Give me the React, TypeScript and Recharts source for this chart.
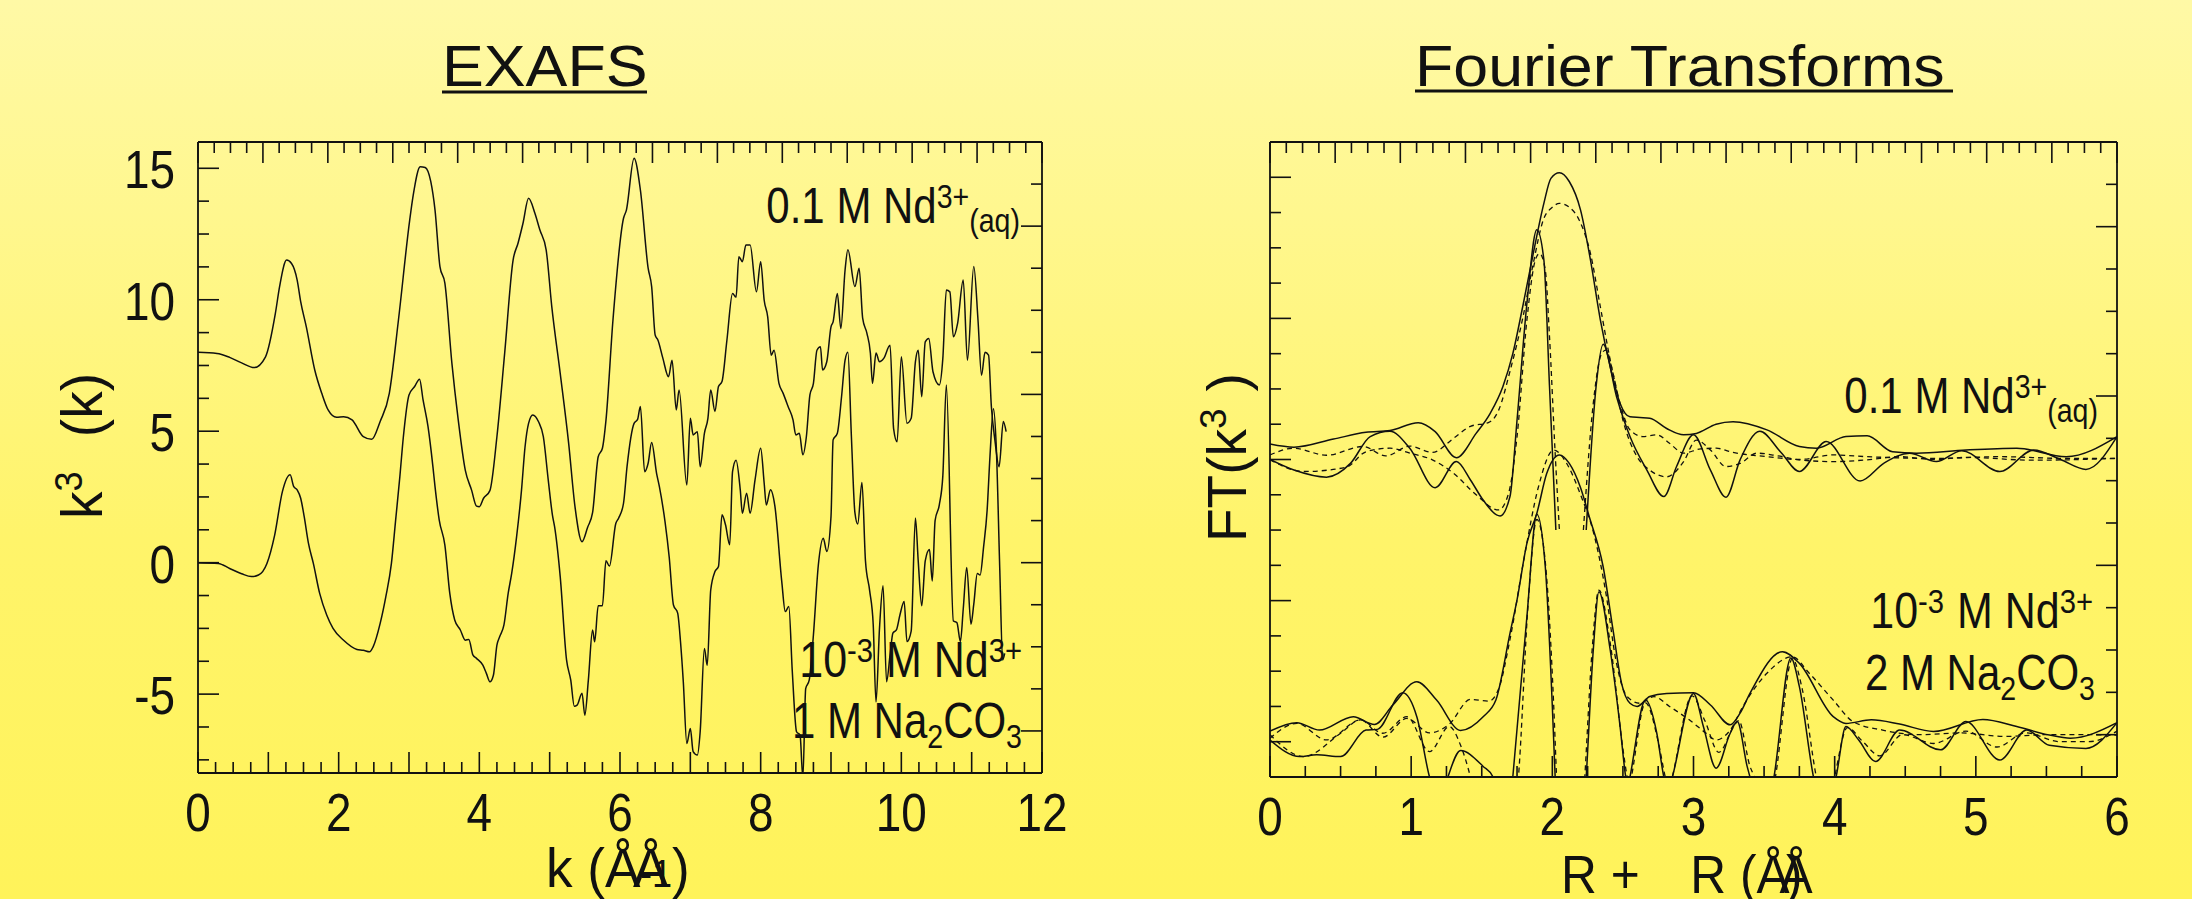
import React from "react";
import { LineChart, Line, XAxis, YAxis } from "recharts";

type Pt = [number, number | null];

// EXAFS, k^3 chi(k) vs k
const exafsAq: Pt[] = [
  [0, 8.0], [0.27, 7.96], [0.45, 7.81], [0.62, 7.6], [0.8, 7.42], [0.96, 7.83], [1.1, 9.48], [1.16, 10.5],
  [1.26, 11.51], [1.33, 11.38], [1.41, 10.75], [1.46, 9.93], [1.54, 8.97], [1.66, 7.33], [1.76, 6.44], [1.85, 5.81],
  [1.97, 5.53], [2.07, 5.55], [2.19, 5.43], [2.35, 4.79], [2.47, 4.69], [2.59, 5.37], [2.72, 6.44], [2.85, 9.23],
  [3.01, 13.03], [3.06, 13.98], [3.16, 15.06], [3.23, 15.03], [3.31, 14.49], [3.37, 13.41], [3.44, 11.26], [3.51, 10.63],
  [3.61, 7.58], [3.7, 5.43], [3.8, 3.52], [3.89, 2.76], [3.96, 2.15], [4.0, 2.13], [4.06, 2.45], [4.15, 2.74],
  [4.25, 4.79], [4.36, 7.96], [4.48, 11.51], [4.55, 12.15], [4.62, 12.9], [4.7, 13.86], [4.79, 13.29], [4.86, 12.66],
  [4.95, 11.9], [5.03, 9.74], [5.15, 7.2], [5.27, 4.54], [5.36, 2.13], [5.46, 0.8], [5.54, 1.35], [5.61, 1.9],
  [5.69, 4.03], [5.75, 4.35], [5.8, 5.4], [5.9, 9.23], [6.05, 13.1], [6.09, 13.4], [6.2, 15.38], [6.29, 14.17],
  [6.4, 11.2], [6.45, 10.5], [6.5, 8.66], [6.54, 8.46], [6.61, 7.77], [6.69, 7.07], [6.74, 7.7], [6.8, 5.81],
  [6.84, 6.57], [6.95, 2.95], [7.0, 5.49], [7.04, 4.86], [7.1, 4.98], [7.14, 3.65], [7.2, 4.92], [7.25, 5.49],
  [7.29, 6.57], [7.35, 5.75], [7.4, 6.7], [7.45, 6.89], [7.52, 8.46], [7.6, 10.24], [7.65, 10.1], [7.69, 11.64],
  [7.74, 11.45], [7.79, 12.08], [7.85, 12.08], [7.94, 10.3], [8.0, 11.45], [8.05, 9.98], [8.1, 9.35], [8.15, 7.89],
  [8.19, 8.08], [8.26, 6.82], [8.32, 6.44], [8.39, 5.94], [8.46, 5.43], [8.5, 4.86], [8.55, 4.92], [8.6, 4.1],
  [8.65, 4.8], [8.7, 6.38], [8.75, 6.82], [8.8, 8.08], [8.85, 8.21], [8.88, 7.33], [8.94, 7.64], [9.0, 8.97],
  [9.03, 9.16], [9.09, 10.24], [9.14, 8.91], [9.2, 11.13], [9.24, 11.9], [9.34, 10.5], [9.4, 11.2], [9.45, 9.3],
  [9.51, 8.73], [9.56, 7.97], [9.59, 6.82], [9.64, 7.97], [9.69, 7.64], [9.75, 7.77], [9.84, 8.27], [9.89, 5.1],
  [9.94, 4.6], [10.0, 7.83], [10.08, 5.3], [10.14, 5.49], [10.2, 7.64], [10.24, 8.08], [10.29, 6.31], [10.34, 8.4],
  [10.39, 8.53], [10.45, 7.26], [10.54, 6.76], [10.59, 7.77], [10.64, 10.37], [10.69, 10.3], [10.74, 8.59], [10.8, 9.1],
  [10.88, 10.75], [10.94, 7.7], [11.03, 11.26], [11.09, 9.23], [11.14, 7.13], [11.19, 8.0], [11.24, 7.89], [11.28, 5.94],
  [11.33, 4.67], [11.39, 3.65], [11.45, 5.37], [11.49, 4.98],
];

const exafsCarb: Pt[] = [
  [0, 0.0], [0.29, -0.03], [0.45, -0.22], [0.62, -0.42], [0.76, -0.53], [0.86, -0.47], [0.98, -0.03], [1.09, 1.05],
  [1.2, 2.7], [1.31, 3.34], [1.36, 2.9], [1.41, 2.77], [1.46, 2.45], [1.51, 1.75], [1.57, 0.74], [1.64, -0.03],
  [1.73, -1.17], [1.83, -1.99], [1.92, -2.5], [2.07, -2.95], [2.26, -3.3], [2.35, -3.33], [2.44, -3.39], [2.49, -3.2],
  [2.59, -2.31], [2.67, -1.3], [2.75, -0.03], [2.81, 1.62], [2.87, 3.27], [2.92, 4.79], [3.0, 6.38], [3.08, 6.7],
  [3.15, 6.98], [3.2, 6.19], [3.27, 5.18], [3.34, 3.65], [3.37, 2.89], [3.43, 1.62], [3.51, 0.67], [3.58, -1.17],
  [3.65, -2.18], [3.73, -2.56], [3.8, -2.95], [3.85, -2.92], [3.91, -3.52], [3.96, -3.64], [4.05, -3.9], [4.1, -4.21],
  [4.15, -4.53], [4.2, -4.28], [4.25, -3.14], [4.29, -2.81], [4.35, -2.37], [4.41, -1.17], [4.46, -0.41], [4.53, 0.99],
  [4.6, 2.77], [4.65, 4.41], [4.7, 5.3], [4.76, 5.62], [4.84, 5.37], [4.91, 4.79], [4.98, 3.14], [5.04, 1.8],
  [5.07, 1.37], [5.15, -0.53], [5.24, -3.7], [5.3, -4.47], [5.35, -5.46], [5.39, -5.42], [5.46, -4.97], [5.5, -5.8],
  [5.55, -4.47], [5.61, -2.56], [5.64, -3.01], [5.69, -1.64], [5.75, -1.64], [5.8, 0.07], [5.85, -0.13], [5.94, 1.49],
  [5.98, 1.69], [6.05, 2.26], [6.1, 3.65], [6.2, 5.3], [6.25, 5.45], [6.29, 5.94], [6.35, 3.46], [6.4, 3.78],
  [6.45, 4.57], [6.52, 3.4], [6.56, 2.89], [6.64, 1.56], [6.7, 0.2], [6.76, -1.61], [6.82, -1.92], [6.86, -3.0],
  [6.9, -4.53], [6.95, -6.88], [7.0, -6.31], [7.04, -7.19], [7.1, -7.32], [7.14, -6.43], [7.2, -3.26], [7.24, -3.9],
  [7.29, -1.04], [7.35, -0.34], [7.4, -0.15], [7.45, 1.82], [7.5, 1.44], [7.56, 0.68], [7.6, 3.46], [7.65, 3.9],
  [7.71, 2.77], [7.74, 1.88], [7.8, 2.64], [7.85, 1.88], [7.92, 3.15], [8.0, 4.35], [8.05, 3.02], [8.08, 2.19],
  [8.14, 2.77], [8.2, 2.19], [8.3, -0.72], [8.35, -1.86], [8.4, -1.67], [8.45, -4.15], [8.51, -6.43], [8.56, -6.56],
  [8.6, -8.2], [8.64, -4.79], [8.69, -4.47], [8.75, -2.75], [8.82, -0.09], [8.89, 0.93], [8.94, 0.42], [9.0, 1.75],
  [9.03, 4.67], [9.09, 4.92], [9.15, 6.31], [9.2, 7.7], [9.24, 8.0], [9.29, 4.8], [9.34, 1.9], [9.38, 1.47],
  [9.44, 3.05], [9.49, 0.07], [9.55, -1.07], [9.6, -2.34], [9.64, -5.3], [9.69, -2.47], [9.74, -0.88], [9.79, -4.53],
  [9.84, -3.5], [9.88, -2.68], [9.93, -2.56], [9.98, -1.99], [10.04, -1.48], [10.08, -3.0], [10.14, -2.6], [10.2, 1.7],
  [10.24, 0.07], [10.29, -1.64], [10.34, 0.07], [10.4, 0.5], [10.44, -0.7], [10.48, 1.6], [10.54, 2.2], [10.59, 3.3],
  [10.64, 6.76], [10.74, -2.22], [10.79, -2.28], [10.84, -3.0], [10.88, -1.77], [10.93, -0.18], [10.99, -2.34], [11.03, -1.58],
  [11.08, -0.41], [11.12, -0.47], [11.17, 0.61], [11.22, 2.0], [11.26, 4.03], [11.31, 5.85], [11.35, 4.4], [11.4, -0.28],
  [11.44, -3.7], [11.47, -3.45],
];

// Fourier transforms, arbitrary units (the axis carries no values)
const ftAqMag: Pt[] = [
  [0, 9.44], [0.17, 9.35], [0.45, 9.58], [0.68, 9.77], [0.85, 9.82], [1.05, 10.04], [1.17, 9.79], [1.32, 9.05],
  [1.46, 9.74], [1.56, 10.31], [1.65, 11.07], [1.72, 12.0], [1.79, 13.33], [1.865, 14.84], [1.94, 16.26], [1.99, 16.97],
  [2.05, 17.13], [2.12, 16.88], [2.2, 16.07], [2.27, 14.66], [2.34, 12.96], [2.41, 11.63], [2.48, 10.59], [2.55, 10.21],
  [2.62, 10.19], [2.69, 10.17], [2.81, 9.88], [2.93, 9.7], [3.02, 9.74], [3.16, 10.0], [3.28, 10.07], [3.52, 9.84],
  [3.75, 9.37], [3.87, 9.32], [4.08, 9.65], [4.23, 9.67], [4.41, 9.22], [4.58, 9.18], [4.93, 9.27], [5.29, 9.32],
  [5.64, 9.08], [6.0, 9.65],
];
const ftAqMagFit: Pt[] = [
  [0, 9.13], [0.17, 9.32], [0.4, 9.12], [0.66, 9.37], [0.82, 9.1], [0.99, 9.38], [1.15, 9.2], [1.3, 9.6],
  [1.42, 9.94], [1.55, 10.05], [1.62, 10.4], [1.7, 11.5], [1.79, 13.0], [1.865, 14.56], [1.936, 15.79], [2.0, 16.15],
  [2.05, 16.26], [2.12, 16.15], [2.19, 15.79], [2.27, 14.84], [2.34, 13.33], [2.41, 11.82], [2.48, 10.59], [2.55, 9.84],
  [2.64, 9.65], [2.74, 9.7], [2.83, 9.46], [2.93, 9.18], [3.05, 9.3], [3.16, 9.32], [3.28, 9.2], [3.52, 9.08],
  [3.75, 9.0], [3.99, 9.13], [4.23, 9.08], [4.7, 9.03], [5.17, 9.08], [5.64, 9.03], [6.0, 9.03],
];
const ftAqIm: Pt[] = [
  [0, 9.0], [0.17, 8.7], [0.4, 8.5], [0.57, 8.89], [0.71, 9.65], [0.85, 9.8], [0.99, 9.32], [1.17, 8.2],
  [1.32, 8.94], [1.42, 8.42], [1.51, 7.85], [1.63, 7.4], [1.7, 7.95], [1.75, 10.12], [1.82, 13.43], [1.89, 15.51],
  [1.94, 14.66], [1.98, 11.07], [2.025, 7.0], [2.1, null], [2.24, 7.0], [2.31, 11.07], [2.36, 12.27], [2.455, 10.78],
  [2.55, 9.65], [2.67, 8.7], [2.79, 7.95], [2.88, 8.8], [3.0, 9.7], [3.12, 8.7], [3.23, 7.93], [3.33, 8.99],
  [3.47, 9.8], [3.62, 9.2], [3.75, 8.66], [3.94, 9.51], [4.18, 8.39], [4.35, 8.9], [4.53, 9.18], [4.72, 8.94],
  [4.9, 9.25], [5.17, 8.66], [5.41, 9.27], [5.6, 9.0], [5.78, 8.72], [6.0, 9.65],
];
const ftAqImFit: Pt[] = [
  [0, 8.99], [0.24, 8.66], [0.54, 8.78], [0.68, 9.22], [0.85, 9.32], [0.99, 9.18], [1.15, 8.99], [1.3, 8.61],
  [1.46, 8.0], [1.62, 7.57], [1.69, 8.04], [1.75, 9.65], [1.82, 12.96], [1.88, 14.66], [1.91, 14.84], [1.95, 14.37],
  [1.98, 12.48], [2.02, 9.18], [2.05, 7.0], [2.1, null], [2.22, 7.0], [2.29, 10.59], [2.35, 12.01], [2.38, 12.1],
  [2.43, 11.44], [2.5, 10.12], [2.6, 9.08], [2.69, 8.7], [2.81, 8.51], [2.93, 8.94], [3.02, 9.55], [3.12, 9.27],
  [3.23, 8.8], [3.33, 8.89], [3.45, 9.18], [3.6, 9.1], [3.75, 8.99], [3.99, 8.94], [4.23, 8.99], [4.46, 9.08],
  [4.7, 9.0], [4.93, 9.06], [5.4, 8.98], [6.0, 9.03],
];

const ftCarbMag: Pt[] = [
  [0, 1.3], [0.19, 1.54], [0.35, 1.33], [0.59, 1.71], [0.74, 1.49], [0.87, 2.04], [1.04, 2.7], [1.18, 2.18],
  [1.35, 1.32], [1.51, 1.71], [1.6, 2.18], [1.7, 4.07], [1.75, 5.02], [1.82, 6.63], [1.89, 7.47], [1.96, 8.6],
  [2.05, 9.13], [2.12, 8.89], [2.2, 8.2], [2.26, 7.4], [2.36, 5.96], [2.43, 4.17], [2.49, 2.66], [2.55, 2.09],
  [2.6, 2.0], [2.69, 2.28], [2.81, 2.37], [3.0, 2.39], [3.12, 2.04], [3.26, 1.48], [3.33, 1.81], [3.4, 2.37],
  [3.63, 3.55], [3.75, 3.22], [3.99, 1.71], [4.08, 1.52], [4.26, 1.62], [4.46, 1.5], [4.7, 1.29], [5.05, 1.63],
  [5.29, 1.43], [5.52, 1.19], [5.67, 1.1], [6.0, 1.54],
];
const ftCarbMagFit: Pt[] = [
  [0, 1.1], [0.19, 1.52], [0.4, 1.05], [0.64, 1.62], [0.8, 1.13], [0.97, 1.66], [1.13, 1.25], [1.27, 1.5],
  [1.42, 2.2], [1.55, 2.15], [1.62, 2.5], [1.7, 3.9], [1.8, 6.2], [1.9, 8.2], [2.01, 9.27], [2.1, 8.9],
  [2.2, 8.0], [2.3, 6.8], [2.38, 5.2], [2.45, 3.32], [2.53, 2.28], [2.62, 2.09], [2.72, 2.28], [2.83, 2.0],
  [2.97, 1.62], [3.09, 1.24], [3.16, 1.05], [3.26, 1.33], [3.35, 2.0], [3.52, 2.94], [3.7, 3.41], [3.82, 2.94],
  [3.99, 2.18], [4.13, 1.57], [4.34, 1.33], [4.6, 1.2], [4.9, 1.25], [5.2, 1.15], [5.5, 1.2], [5.76, 1.2],
  [6.0, 1.19],
];
const ftCarbIm: Pt[] = [
  [0, 1.05], [0.21, 0.58], [0.33, 0.63], [0.5, 0.58], [0.68, 1.33], [0.76, 1.35], [0.94, 2.39], [1.04, 1.71],
  [1.13, 0.0], [1.2, -0.8], [1.26, 0.0], [1.35, 0.75], [1.51, 0.3], [1.58, 0.0], [1.66, -2.5], [1.72, 0.0],
  [1.82, 4.55], [1.89, 7.45], [1.95, 5.96], [2.0, 2.0], [2.02, 0.0], [2.13, -6.0], [2.24, 0.0], [2.29, 3.6],
  [2.33, 5.25], [2.41, 3.6], [2.48, 1.43], [2.52, 0.0], [2.535, -0.3], [2.55, 0.0], [2.66, 2.18], [2.74, 1.24],
  [2.79, 0.0], [2.82, -0.4], [2.85, 0.0], [3.0, 2.37], [3.07, 1.43], [3.16, 0.25], [3.26, 1.24], [3.31, 1.57],
  [3.38, 0.3], [3.4, 0.0], [3.49, -1.5], [3.57, 0.0], [3.69, 3.37], [3.75, 2.56], [3.85, 0.0], [3.93, -1.2],
  [4.01, 0.0], [4.08, 1.43], [4.17, 1.05], [4.29, 0.44], [4.46, 1.33], [4.75, 0.77], [4.93, 1.57], [5.17, 0.48],
  [5.36, 1.33], [5.52, 0.9], [5.78, 0.81], [6.0, 1.54],
];
const ftCarbImFit: Pt[] = [
  [0, 1.2], [0.24, 0.58], [0.5, 1.24], [0.64, 1.62], [0.8, 1.24], [0.97, 1.71], [1.13, 0.72], [1.27, 1.43],
  [1.35, 0.9], [1.42, 0.0], [1.5, -1.5], [1.6, -0.5], [1.7, -2.0], [1.76, 0.0], [1.83, 5.0], [1.89, 7.3],
  [1.95, 6.1], [2.01, 2.0], [2.03, 0.0], [2.13, -6.0], [2.23, 0.0], [2.28, 3.5], [2.33, 5.3], [2.41, 3.8],
  [2.5, 0.8], [2.53, 0.0], [2.545, -0.3], [2.56, 0.0], [2.66, 2.1], [2.75, 1.0], [2.8, 0.0], [2.825, -0.4],
  [2.85, 0.0], [2.99, 2.3], [3.08, 1.6], [3.18, 0.7], [3.28, 1.4], [3.32, 1.6], [3.4, 0.3], [3.43, 0.0],
  [3.5, -1.5], [3.58, 0.0], [3.7, 3.35], [3.77, 2.5], [3.87, 0.0], [3.94, -1.2], [4.0, 0.0], [4.09, 1.4],
  [4.2, 1.0], [4.32, 0.6], [4.48, 1.2], [4.7, 0.95], [4.93, 1.3], [5.15, 0.85], [5.35, 1.25], [5.6, 1.0],
  [5.8, 1.0], [6.0, 1.3],
];

const kLabels = [0, 2, 4, 6, 8, 10, 12];
const chiLabels = [-5, 0, 5, 10, 15];
const rLabels = [0, 1, 2, 3, 4, 5, 6];

const steps = (from: number, to: number, step: number) => {
  const out: number[] = [];
  for (let v = from; v <= to + 1e-9; v += step) out.push(Math.round(v * 1000) / 1000);
  return out;
};

const kTicks = steps(0, 12, 0.25);
const topTicks = steps(0, 13, 0.25);
const chiTicks = steps(-7.5, 15, 1.25);
const sideTicks = steps(1, 14, 1);
const rTicks = steps(0, 6, 0.25);
const ftTicks = steps(1, 17, 1);

const FONT = '"Liberation Sans", Arial, Helvetica, sans-serif';
const INK = "#111111";
const MAJOR = 21;
const MINOR = 11;

const toRows = (pts: Pt[]) => pts.map(([x, y]) => ({ x, y }));
const near = (a: number, b: number) => Math.abs(a - b) < 1e-6;
const isMajor = (v: number, every: number, offset: number) => {
  const q = (v - offset) / every;
  return near(q, Math.round(q));
};

type Side = "bottom" | "top" | "left" | "right";

function makeTick(side: Side, every: number, offset = 0, labels: number[] = []) {
  return (p: any) => {
    const v: number = p.payload.value;
    const len = isMajor(v, every, offset) ? MAJOR : MINOR;
    const x: number = p.x;
    const y: number = p.y;
    const show = labels.some((l) => near(l, v));
    let seg;
    if (side === "bottom") seg = { x1: x, x2: x, y1: y, y2: y - len };
    else if (side === "top") seg = { x1: x, x2: x, y1: y, y2: y + len };
    else if (side === "left") seg = { x1: x, x2: x + len, y1: y, y2: y };
    else seg = { x1: x, x2: x - len, y1: y, y2: y };
    return (
      <g>
        <line {...seg} stroke={INK} strokeWidth={1.6} />
        {show && side === "bottom" && (
          <g transform={`translate(${x},${y + 58}) scale(0.85,1)`}>
            <text textAnchor="middle" fontSize={54} fontFamily={FONT} fill={INK}>
              {v}
            </text>
          </g>
        )}
        {show && side === "left" && (
          <g transform={`translate(${x - 23},${y + 20}) scale(0.85,1)`}>
            <text textAnchor="end" fontSize={54} fontFamily={FONT} fill={INK}>
              {v}
            </text>
          </g>
        )}
      </g>
    );
  };
}

const frame = { stroke: INK, strokeWidth: 1.8 };

// the mirrored top/right scales carry no series; an empty line ties them in so their ticks get drawn
const anchorLine = (
  <Line xAxisId="top" yAxisId="right" data={[]} dataKey="y" stroke="none" dot={false}
    isAnimationActive={false} legendType="none" />
);

// every axis is 1px thick, so the margins are one pixel short of the frame
function ExafsChart() {
  return (
    <LineChart width={1100} height={899} margin={{ top: 141, right: 57, bottom: 125, left: 197 }}>
      <XAxis dataKey="x" type="number" domain={[0, 12]} ticks={kTicks} interval={0} height={1}
        tickSize={0} tickMargin={0} tickLine={false} axisLine={frame} allowDataOverflow
        tick={makeTick("bottom", 1, 0, kLabels)} />
      <XAxis xAxisId="top" dataKey="x" orientation="top" type="number" domain={[0, 13]} ticks={topTicks}
        interval={0} height={1} tickSize={0} tickMargin={0} tickLine={false} axisLine={frame}
        allowDataOverflow tick={makeTick("top", 1)} />
      <YAxis type="number" domain={[-8, 16]} ticks={chiTicks} interval={0} width={1} tickSize={0}
        tickMargin={0} tickLine={false} axisLine={frame} allowDataOverflow
        tick={makeTick("left", 5, 0, chiLabels)} />
      <YAxis yAxisId="right" orientation="right" type="number" domain={[0, 15]} ticks={sideTicks}
        interval={0} width={1} tickSize={0} tickMargin={0} tickLine={false} axisLine={frame}
        allowDataOverflow tick={makeTick("right", 4, 1)} />
      {anchorLine}
      <Line data={toRows(exafsAq)} dataKey="y" type="monotone" stroke={INK} strokeWidth={1.5}
        dot={false} isAnimationActive={false} />
      <Line data={toRows(exafsCarb)} dataKey="y" type="monotone" stroke={INK} strokeWidth={1.5}
        dot={false} isAnimationActive={false} />
    </LineChart>
  );
}

const ftSeries: { pts: Pt[]; dashed: boolean }[] = [
  { pts: ftAqMag, dashed: false },
  { pts: ftAqMagFit, dashed: true },
  { pts: ftAqIm, dashed: false },
  { pts: ftAqImFit, dashed: true },
  { pts: ftCarbMag, dashed: false },
  { pts: ftCarbMagFit, dashed: true },
  { pts: ftCarbIm, dashed: false },
  { pts: ftCarbImFit, dashed: true },
];

function FtChart() {
  return (
    <LineChart width={1092} height={899} margin={{ top: 141, right: 74, bottom: 121, left: 169 }}>
      <XAxis dataKey="x" type="number" domain={[0, 6]} ticks={rTicks} interval={0} height={1}
        tickSize={0} tickMargin={0} tickLine={false} axisLine={frame} allowDataOverflow
        tick={makeTick("bottom", 1, 0, rLabels)} />
      <XAxis xAxisId="top" dataKey="x" orientation="top" type="number" domain={[0, 13]} ticks={topTicks}
        interval={0} height={1} tickSize={0} tickMargin={0} tickLine={false} axisLine={frame}
        allowDataOverflow tick={makeTick("top", 1)} />
      <YAxis type="number" domain={[0, 18]} ticks={ftTicks} interval={0} width={1} tickSize={0}
        tickMargin={0} tickLine={false} axisLine={frame} allowDataOverflow tick={makeTick("left", 4, 1)} />
      <YAxis yAxisId="right" orientation="right" type="number" domain={[0, 15]} ticks={sideTicks}
        interval={0} width={1} tickSize={0} tickMargin={0} tickLine={false} axisLine={frame}
        allowDataOverflow tick={makeTick("right", 4, 1)} />
      {anchorLine}
      {ftSeries.map((s, i) => (
        <Line key={i} data={toRows(s.pts)} dataKey="y" type="monotone" stroke={INK}
          strokeWidth={s.dashed ? 1.3 : 1.5} strokeDasharray={s.dashed ? "5 4" : undefined}
          dot={false} isAnimationActive={false} />
      ))}
    </LineChart>
  );
}

const txt = { fontFamily: FONT, fill: INK };

function Overlay() {
  return (
    <svg width={2192} height={899} style={{ position: "absolute", left: 0, top: 0, pointerEvents: "none" }}>
      {/* titles */}
      <g transform="translate(442,86) scale(1.1,1)">
        <text fontSize={57} {...txt}>EXAFS</text>
      </g>
      <line x1={442} x2={647} y1={92} y2={92} stroke={INK} strokeWidth={3} />
      <g transform="translate(1415,86) scale(1.1,1)">
        <text fontSize={57} {...txt}>Fourier Transforms</text>
      </g>
      <line x1={1415} x2={1953} y1={91} y2={91} stroke={INK} strokeWidth={3} />

      {/* EXAFS annotations */}
      <g transform="translate(1020,223) scale(0.84,1)">
        <text textAnchor="end" fontSize={50} {...txt}>
          0.1 M Nd<tspan dy={-15} fontSize={34}>3+</tspan>
          <tspan dy={24} fontSize={34}>(aq)</tspan>
        </text>
      </g>
      <g transform="translate(1022,677) scale(0.86,1)">
        <text textAnchor="end" fontSize={50} {...txt}>
          10<tspan dy={-15} fontSize={34}>-3</tspan>
          <tspan dy={15} dx={15}>M Nd</tspan>
          <tspan dy={-15} fontSize={34}>3+</tspan>
        </text>
      </g>
      <g transform="translate(1022,738) scale(0.84,1)">
        <text textAnchor="end" fontSize={50} {...txt}>
          1 M Na<tspan dy={10} fontSize={34}>2</tspan>
          <tspan dy={-10}>CO</tspan>
          <tspan dy={10} fontSize={34}>3</tspan>
        </text>
      </g>

      {/* FT annotations */}
      <g transform="translate(2098,413) scale(0.84,1)">
        <text textAnchor="end" fontSize={50} {...txt}>
          0.1 M Nd<tspan dy={-15} fontSize={34}>3+</tspan>
          <tspan dy={24} fontSize={34}>(aq)</tspan>
        </text>
      </g>
      <g transform="translate(2093,628) scale(0.86,1)">
        <text textAnchor="end" fontSize={50} {...txt}>
          10<tspan dy={-15} fontSize={34}>-3</tspan>
          <tspan dy={15} dx={15}>M Nd</tspan>
          <tspan dy={-15} fontSize={34}>3+</tspan>
        </text>
      </g>
      <g transform="translate(2095,690) scale(0.84,1)">
        <text textAnchor="end" fontSize={50} {...txt}>
          2 M Na<tspan dy={10} fontSize={34}>2</tspan>
          <tspan dy={-10}>CO</tspan>
          <tspan dy={10} fontSize={34}>3</tspan>
        </text>
      </g>

      {/* axis titles */}
      <g transform="translate(546,887) scale(0.95,1)">
        <text fontSize={56} {...txt}>
          k (Å<tspan dx={-8}>Å</tspan>
          <tspan dx={-30} fontSize={38}>-1</tspan>
          <tspan>)</tspan>
        </text>
      </g>
      <g transform="translate(1561,893) scale(0.92,1)">
        <text fontSize={54} {...txt}>
          R +<tspan dx={55}>R (Å</tspan>
          <tspan dx={-4}>)</tspan>
          <tspan dx={-25}>Å</tspan>
        </text>
      </g>
      <g transform="translate(102,519) rotate(-90) scale(0.95,1)">
        <text fontSize={58} {...txt}>
          k<tspan dy={-20} fontSize={38}>3</tspan>
          <tspan dy={20} dx={36}>(k)</tspan>
        </text>
      </g>
      <g transform="translate(1246,542) rotate(-90)">
        <text fontSize={55} {...txt}>
          FT(k<tspan dy={-20} fontSize={37}>3</tspan>
          <tspan dy={20} dx={17}>)</tspan>
        </text>
      </g>
    </svg>
  );
}

export default function App() {
  return (
    <div
      style={{
        position: "absolute",
        left: 0,
        top: 0,
        width: 2192,
        height: 899,
        overflow: "hidden",
        background: "linear-gradient(to bottom, #fff9a6 0%, #fff46a 60%, #fff35a 100%)",
      }}
    >
      <div style={{ position: "absolute", left: 0, top: 0 }}>
        <ExafsChart />
      </div>
      <div style={{ position: "absolute", left: 1100, top: 0 }}>
        <FtChart />
      </div>
      <Overlay />
    </div>
  );
}
